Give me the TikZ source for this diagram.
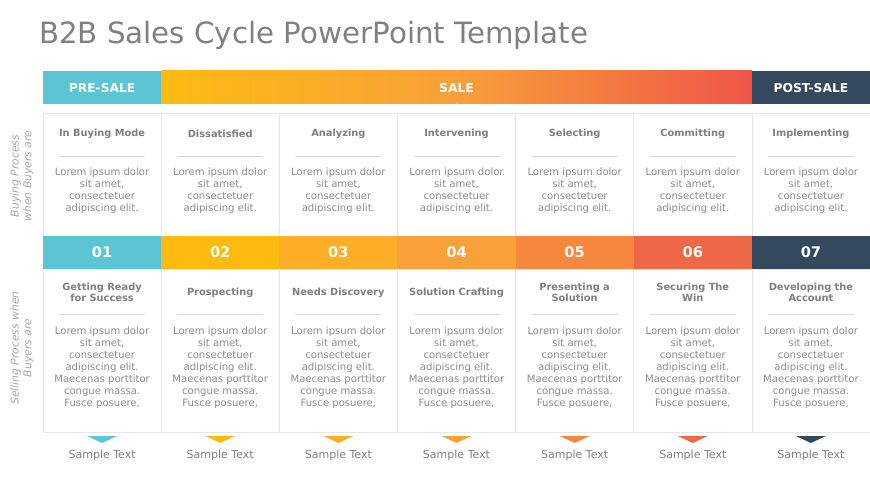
\documentclass[tikz,border=0pt]{standalone}
\usepackage{fontspec}
\setmainfont{DejaVu Sans}
\usetikzlibrary{calc}

\definecolor{titlegray}{HTML}{808080}
\definecolor{headgray}{HTML}{7F7F7F}
\definecolor{bodygray}{HTML}{8C8C8C}
\definecolor{sidegray}{HTML}{A6A6A6}
\definecolor{sepgray}{HTML}{D9D9D9}
\definecolor{cardgray}{HTML}{E6E6E6}
\definecolor{c1}{HTML}{5BC5D3}
\definecolor{c2}{HTML}{FDBB11}
\definecolor{c3}{HTML}{FBAE26}
\definecolor{c4}{HTML}{F8A03A}
\definecolor{c5}{HTML}{F5873E}
\definecolor{c6}{HTML}{EE6848}
\definecolor{c7}{HTML}{34495E}
\definecolor{salered}{HTML}{EF5548}

\begin{document}
\begin{tikzpicture}[x=0.03cm,y=-0.03cm,
     bar/.style={font=\bfseries\fontsize{10.5}{12}\selectfont,text=white},
     num/.style={font=\bfseries\fontsize{12.5}{14}\selectfont,text=white},
     card/.style={draw=cardgray,fill=white,line width=0.6pt},
     sep/.style={draw=sepgray,line width=0.6pt},
     cardtitle/.style={font=\bfseries\fontsize{8.4}{9.6}\selectfont,text=headgray,align=center},
     body/.style={font=\fontsize{8.6}{10.2}\selectfont,text=bodygray,align=center},
     sample/.style={font=\fontsize{9.4}{11}\selectfont,text=headgray},
     side/.style={font=\itshape\fontsize{9.2}{11}\selectfont,text=sidegray,align=center}
     ]
\useasboundingbox (0,0) rectangle (870,489);

%Vertices of the main table
\def \xmin{43}
\def \xmax{870}

%Number of columns
\def \n{7}
\pgfmathsetmacro{\wid}{(\xmax-\xmin)/\n}

%Title
\node[anchor=west,font=\fontsize{25}{28}\selectfont,text=titlegray] (title) at (35,35) {B2B Sales Cycle PowerPoint Template};

%Draw the phase bar
\fill[c1] (\xmin,71) rectangle ({\xmin+\wid},104);
\shade[left color=c2,right color=c4] ({\xmin+\wid},71) rectangle ({\xmin+3.5*\wid},104);
\shade[left color=c4,right color=salered] ({\xmin+3.5*\wid},71) rectangle ({\xmax-\wid},104);
\fill[c7] ({\xmax-\wid},71) rectangle (\xmax,104);
\node[bar] (presale) at ({\xmin+0.5*\wid},88) {PRE-SALE};
\node[bar] (sale) at ({\xmin+3.5*\wid},88) {SALE};
\node[bar] (postsale) at ({\xmax-0.5*\wid},88) {POST-SALE};

%Side labels
\node[side,rotate=90] (buying) at (22,176) {Buying Process\\when Buyers are};
\node[side,rotate=90] (selling) at (22,348) {Selling Process when\\Buyers are};

%Buying cards
\foreach [count=\i] \k in {In Buying Mode,Dissatisfied,Analyzing,Intervening,Selecting,Committing,Implementing}
   {
\pgfmathsetmacro{\cx}{\xmin+(\i-0.5)*\wid}
\draw[card] ({\cx-0.5*\wid},113) rectangle ({\cx+0.5*\wid},236);
\node[cardtitle] (bt\i) at (\cx,134) {\k};
\draw[sep] ({\cx-43},156) -- ({\cx+43},156);
\node[body] (bb\i) at (\cx,191) {Lorem ipsum dolor\\sit amet,\\consectetuer\\adipiscing elit.};
   }

%Selling cards
\foreach [count=\i] \k in {{Getting Ready\\for Success},Prospecting,Needs Discovery,Solution Crafting,{Presenting a\\Solution},{Securing The\\Win},{Developing the\\Account}}
   {
\pgfmathsetmacro{\cx}{\xmin+(\i-0.5)*\wid}
\draw[card] ({\cx-0.5*\wid},269) rectangle ({\cx+0.5*\wid},432);
\node[cardtitle] (st\i) at (\cx,292.5) {\k};
\draw[sep] ({\cx-43},314) -- ({\cx+43},314);
\node[body] (sb\i) at (\cx,368) {Lorem ipsum dolor\\sit amet,\\consectetuer\\adipiscing elit.\\Maecenas porttitor\\congue massa.\\Fusce posuere,};
   }

%Number band, markers and captions
\foreach [count=\i] \c in {c1,c2,c3,c4,c5,c6,c7}
   {
\pgfmathsetmacro{\cx}{\xmin+(\i-0.5)*\wid}
\fill[\c] ({\cx-0.5*\wid},236) rectangle ({\cx+0.5*\wid},269);
\node[num] (n\i) at (\cx,252.5) {0\i};
\fill[\c] ({\cx-15},436) -- ({\cx+15},436) -- (\cx,443) -- cycle;
\node[sample] (cap\i) at (\cx,455) {Sample Text};
   }
\end{tikzpicture}
\end{document}
